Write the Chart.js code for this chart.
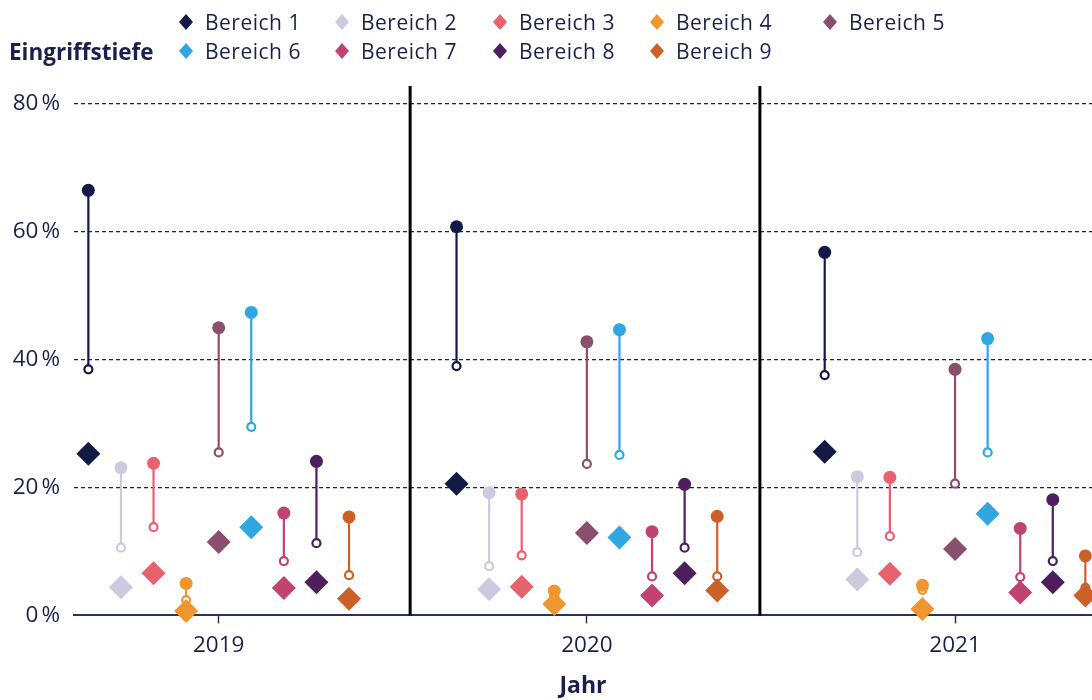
<!DOCTYPE html>
<html lang="de">
<head>
<meta charset="utf-8">
<title>Eingriffstiefe</title>
<script src="https://cdn.jsdelivr.net/npm/chart.js@4.4.1/dist/chart.umd.min.js"></script>
<style>
  body { margin: 0; background: #fff; font-family: "Open Sans", sans-serif; color: #1b1f4b; }
  #wrap { position: relative; width: 1092px; height: 700px; overflow: hidden; }
  #chart { position: absolute; left: 0; top: 0; }
  #legendTitle { position: absolute; left: 9px; top: 37px; font-weight: 700; font-size: 22.5px; line-height: 30px; }
  #legend { position: absolute; left: 178px; top: 7px; display: grid;
            grid-template-columns: 156px 158px 157px 173px auto; grid-auto-rows: 29px; }
  .item { display: flex; align-items: center; font-size: 21px; letter-spacing: 0.5px; white-space: nowrap; }
  .item svg { margin-right: 11px; flex: none; }
</style>
</head>
<body>
<div id="wrap">
  <canvas id="chart" width="1092" height="700"></canvas>
  <div id="legendTitle">Eingriffstiefe</div>
  <div id="legend"></div>
</div>
<script>
const jahre = ['2019', '2020', '2021'];
const bereiche = ['Bereich 1', 'Bereich 2', 'Bereich 3', 'Bereich 4', 'Bereich 5',
                  'Bereich 6', 'Bereich 7', 'Bereich 8', 'Bereich 9'];
const farben = ['#141a46', '#cdc9de', '#e8616f', '#f0962e', '#8b4f6e',
                '#30a7e1', '#c04371', '#4f1e5d', '#cc6128'];

// Raute (Wert) je Bereich
const wert2019 = [25.3, 4.4, 6.6, 0.7, 11.5, 13.8, 4.3, 5.2, 2.6];
const wert2020 = [20.6, 4.1, 4.5, 1.8, 12.9, 12.2, 3.1, 6.6, 3.9];
const wert2021 = [25.6, 5.6, 6.5, 1.0, 10.4, 15.9, 3.6, 5.2, 3.1];
// offener Kreis (untere Grenze)
const von2019 = [38.5, 10.6, 13.8, 2.4, 25.5, 29.5, 8.5, 11.3, 6.3];
const von2020 = [39.0, 7.7, 9.4, 3.0, 23.7, 25.1, 6.1, 10.6, 6.1];
const von2021 = [37.6, 9.9, 12.4, 4.0, 20.6, 25.5, 6.0, 8.5, 4.3];
// gefüllter Kreis (obere Grenze)
const bis2019 = [66.5, 23.1, 23.8, 5.0, 45.0, 47.4, 16.0, 24.1, 15.4];
const bis2020 = [60.8, 19.2, 19.0, 3.8, 42.8, 44.7, 13.1, 20.5, 15.5];
const bis2021 = [56.8, 21.7, 21.6, 4.7, 38.5, 43.3, 13.6, 18.1, 9.3];

const yTicks = [0, 20, 40, 60, 80];
const trenner = [0.52, 1.47];

const werte = [wert2019, wert2020, wert2021];
const von = [von2019, von2020, von2021];
const bis = [bis2019, bis2020, bis2021];

const dodge = 0.0885;
const xPos = (i, j) => i + (j - 4) * dodge;

const datasets = [];
bereiche.forEach((name, j) => {
  const range = [];
  jahre.forEach((_, i) => {
    range.push({ x: xPos(i, j), y: von[i][j] });
    range.push({ x: xPos(i, j), y: bis[i][j] });
    range.push({ x: xPos(i, j), y: null });
  });
  datasets.push({
    type: 'line',
    label: name + ' Spanne',
    data: range,
    borderColor: farben[j],
    borderWidth: 2.2,
    spanGaps: false,
    pointRadius: ctx => (ctx.dataIndex % 3 === 0 ? 4 : 6.5),
    pointBorderWidth: ctx => (ctx.dataIndex % 3 === 0 ? 2.2 : 0),
    pointBackgroundColor: ctx => (ctx.dataIndex % 3 === 0 ? '#ffffff' : farben[j]),
    pointBorderColor: farben[j],
    order: 2
  });
  datasets.push({
    type: 'scatter',
    label: name,
    data: jahre.map((_, i) => ({ x: xPos(i, j), y: werte[i][j] })),
    pointStyle: 'rectRot',
    pointRadius: 12,
    pointBorderWidth: 0,
    backgroundColor: farben[j],
    borderColor: farben[j],
    order: 1
  });
});

const trennerPlugin = {
  id: 'trenner',
  beforeDatasetsDraw(chart) {
    const { ctx, chartArea, scales } = chart;
    ctx.save();
    ctx.strokeStyle = '#000';
    ctx.lineWidth = 3;
    trenner.forEach(v => {
      const px = scales.x.getPixelForValue(v);
      ctx.beginPath();
      ctx.moveTo(px, chartArea.top - 18);
      ctx.lineTo(px, chartArea.bottom);
      ctx.stroke();
    });
    ctx.restore();
  }
};

const navy = '#1b1f4b';
new Chart(document.getElementById('chart'), {
  data: { datasets },
  plugins: [trennerPlugin],
  options: {
    responsive: false,
    animation: false,
    clip: false,
    layout: { autoPadding: false, padding: { top: 104, right: 0, bottom: 0, left: 0 } },
    plugins: { legend: { display: false }, tooltip: { enabled: false } },
    scales: {
      x: {
        type: 'linear',
        min: -0.393,
        max: 2.372,
        afterBuildTicks: scale => { scale.ticks = jahre.map((_, i) => ({ value: i })); },
        afterFit: scale => { scale.paddingLeft = 0; scale.paddingRight = 0; },
        ticks: {
          callback: v => jahre[v],
          color: navy,
          font: { family: 'Open Sans', size: 22.5 },
          padding: 9
        },
        grid: { drawOnChartArea: false, drawTicks: true, tickLength: 8, tickColor: '#2b3060', tickWidth: 1.5 },
        border: { display: true, color: '#2b3060', width: 2 },
        title: {
          display: true, text: 'Jahr', color: navy,
          font: { family: 'Open Sans', size: 23, weight: 'bold' },
          padding: { top: 4, bottom: 0 }
        }
      },
      y: {
        min: 0,
        max: 80,
        afterBuildTicks: scale => { scale.ticks = yTicks.map(v => ({ value: v })); },
        afterFit: scale => { scale.width = 74; },
        ticks: {
          callback: v => v + '\u202f%',
          color: navy,
          font: { family: 'Open Sans', size: 22.5 },
          padding: 14
        },
        grid: {
          drawTicks: false,
          lineWidth: 1.3,
          color: ctx => (ctx.tick && ctx.tick.value === 0 ? 'rgba(0,0,0,0)' : navy)
        },
        border: { display: false, dash: [4, 3] }
      }
    }
  }
});

// HTML-Legende aus denselben Arrays
const legend = document.getElementById('legend');
bereiche.forEach((name, j) => {
  const el = document.createElement('div');
  el.className = 'item';
  el.innerHTML = '<svg width="16" height="18" viewBox="0 0 16 18"><polygon points="8,1 15,9 8,17 1,9" fill="' +
    farben[j] + '"/></svg><span>' + name + '</span>';
  legend.appendChild(el);
});
</script>
</body>
</html>
